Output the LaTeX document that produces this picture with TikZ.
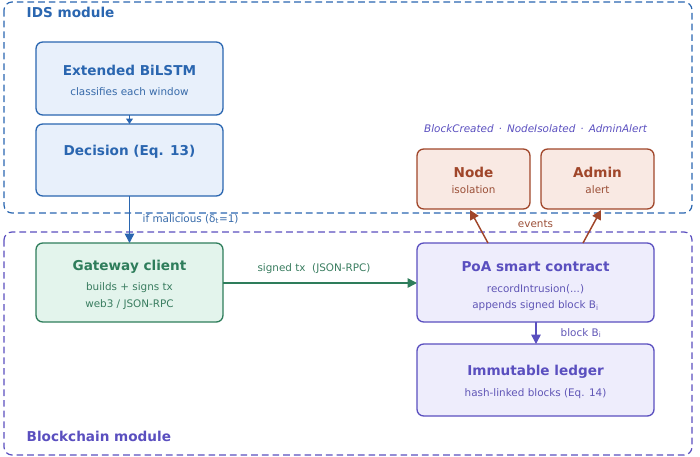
\documentclass[tikz,border=0pt]{standalone}
\usepackage{fontspec}
\setmainfont{DejaVu Sans}
\usetikzlibrary{arrows.meta}
\definecolor{bl}{HTML}{2A66B0}\definecolor{blf}{HTML}{E8F0FB}
\definecolor{gr}{HTML}{2E7D5B}\definecolor{grf}{HTML}{E3F4EC}
\definecolor{pu}{HTML}{5A4FBF}\definecolor{puf}{HTML}{EEEDFC}
\definecolor{rd}{HTML}{A0462A}\definecolor{rdf}{HTML}{F9E9E3}
\begin{document}
\begin{tikzpicture}[x=0.75pt,y=-0.75pt,
 box/.style={draw=#1,line width=1pt,rounded corners=5pt,fill=#1f},
 ttl/.style={font=\fontsize{10.2}{11}\selectfont\bfseries,text=#1},
 sub/.style={font=\fontsize{7.8}{9}\selectfont,text=#1!85!gray},
 arr/.style={draw=#1,line width=1.1pt,-{Triangle[length=7pt,width=7pt]}},
 grp/.style={draw=#1,dashed,line width=0.9pt,rounded corners=6pt,dash pattern=on 5pt off 3pt}]
\useasboundingbox (0,0) rectangle (700,457);
\draw[grp=bl] (4,2) rectangle (692,213);
\draw[grp=pu] (4,232) rectangle (692,455);
\node[ttl=bl,anchor=west] (idsl) at (22,12) {IDS module};
\node[ttl=pu,anchor=west] (bcl) at (22,436) {Blockchain module};
\path[box=bl] (36,42) rectangle (223,115);
\path[box=bl] (36,124) rectangle (223,196);
\path[box=gr] (36,243) rectangle (223,322);
\path[box=pu] (417,243) rectangle (654,322);
\path[box=pu] (417,344) rectangle (654,416);
\path[box=rd] (417,149) rectangle (530,209);
\path[box=rd] (541,149) rectangle (654,209);
\node[ttl=bl] (t1) at (129.5,70) {Extended BiLSTM};
\node[sub=bl] (s1) at (129.5,92) {classifies each window};
\node[ttl=bl] (t2) at (129.5,152) {Decision (Eq. 13)};
\node[ttl=gr] (t3) at (129.5,267) {Gateway client};
\node[sub=gr] (s3) at (129.5,288) {builds + signs tx};
\node[sub=gr] (s3b) at (129.5,305) {web3 / JSON-RPC};
\node[ttl=pu] (t4) at (535.5,267) {PoA smart contract};
\node[sub=pu] (s4) at (535.5,289) {recordIntrusion(...)};
\node[sub=pu] (s4b) at (535.5,306) {appends signed block B\textsubscript{i}};
\node[ttl=pu] (t5) at (535.5,372) {Immutable ledger};
\node[sub=pu] (s5) at (535.5,394) {hash-linked blocks (Eq. 14)};
\node[ttl=rd] (t6) at (473.5,172) {Node};
\node[sub=rd] (s6) at (473.5,190) {isolation};
\node[ttl=rd] (t7) at (597.5,172) {Admin};
\node[sub=rd] (s7) at (597.5,190) {alert};
\node[text=pu,font=\fontsize{7.8}{9}\selectfont\itshape] (ev) at (535.5,129) {BlockCreated \,·\, NodeIsolated \,·\, AdminAlert};
\coordinate (a1) at (129.5,115); \coordinate (a2) at (129.5,124);
\draw[arr=bl,-{Triangle[length=4pt,width=5pt]}] (a1) -- (a2);
\coordinate (b1) at (129.5,196); \coordinate (b2) at (129.5,243);
\draw[arr=bl] (b1) -- (b2);
\node[sub=bl,anchor=west] (ml) at (138,219) {if malicious (δ\textsubscript{t}=1)};
\coordinate (c1) at (223,283); \coordinate (c2) at (417,283);
\draw[arr=gr] (c1) -- (c2);
\node[sub=gr] (cl) at (314,269) {signed tx\ \ (JSON-RPC)};
\coordinate (d1) at (536,322); \coordinate (d2) at (536,344);
\draw[arr=pu] (d1) -- (d2);
\node[sub=pu,anchor=west] (dl) at (556,333) {block B\textsubscript{i}};
\coordinate (e1) at (488,243); \coordinate (e2) at (470,210);
\coordinate (f1) at (583,243); \coordinate (f2) at (601,210);
\draw[arr=rd] (e1) -- (e2);
\draw[arr=rd] (f1) -- (f2);
\node[sub=rd] (el) at (535.5,224) {events};
\end{tikzpicture}
\end{document}
